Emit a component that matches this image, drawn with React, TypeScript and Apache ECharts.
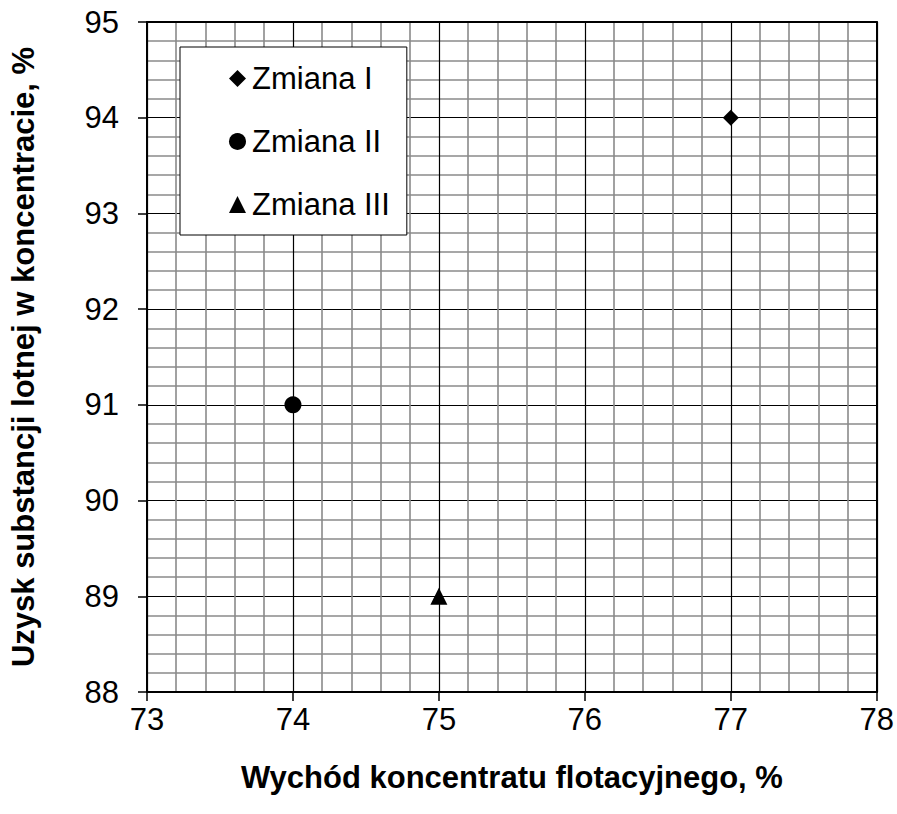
import React, { useEffect, useRef } from "react";
import * as echarts from "echarts";

const seriesNames = ["Zmiana I", "Zmiana II", "Zmiana III"];
const seriesSymbols = ["diamond", "circle", "triangle"];
const xValues = [77, 74, 75];
const yValues = [94, 91, 89];

const xTitle = "Wychód koncentratu flotacyjnego, %";
const yTitle = "Uzysk substancji lotnej w koncentracie, %";

const FONT = "'Liberation Sans', Arial, sans-serif";

export default function App() {
  const ref = useRef<HTMLDivElement>(null);
  useEffect(() => {
    if (!ref.current) return;
    const chart = echarts.init(ref.current, undefined, { renderer: "svg" });
    const axisCommon = {
      axisLine: { show: true, lineStyle: { color: "#000", width: 2 } },
      axisTick: { show: true, inside: false, length: 9, lineStyle: { color: "#000", width: 1.5 } },
      minorTick: { show: false, splitNumber: 5 },
      splitLine: { show: true, lineStyle: { color: "#000", width: 1.2 } },
      minorSplitLine: { show: true, lineStyle: { color: "#8a8a8a", width: 1.6 } },
      axisLabel: { color: "#000", fontSize: 31, fontFamily: FONT },
      nameTextStyle: { color: "#000", fontSize: 31, fontWeight: "bold", fontFamily: FONT },
    };
    const borderAxis = {
      axisLine: { show: true, lineStyle: { color: "#000", width: 2 } },
      axisTick: { show: false },
      axisLabel: { show: false },
      splitLine: { show: false },
    };
    chart.setOption({
      animation: false,
      backgroundColor: "#fff",
      grid: { left: 142, right: 19, top: 22, bottom: 122, containLabel: false },
      xAxis: [
        {
          type: "value",
          min: 73,
          max: 78,
          interval: 1,
          name: xTitle,
          nameLocation: "middle",
          nameGap: 70,
          ...axisCommon,
          axisLabel: { ...axisCommon.axisLabel, margin: 12 },
        },
        { type: "value", position: "top", min: 73, max: 78, interval: 1, ...borderAxis },
      ],
      yAxis: [
        {
          type: "value",
          min: 88,
          max: 95,
          interval: 1,
          name: yTitle,
          nameLocation: "middle",
          nameGap: 108,
          ...axisCommon,
          axisLabel: { ...axisCommon.axisLabel, margin: 28 },
        },
        { type: "value", position: "right", min: 88, max: 95, interval: 1, ...borderAxis },
      ],
      legend: {
        orient: "vertical",
        left: 180,
        top: 47,
        padding: [16, 17, 15, 49],
        itemGap: 32,
        itemWidth: 17,
        itemHeight: 17,
        backgroundColor: "#fff",
        borderColor: "#000",
        borderWidth: 1,
        borderRadius: 0,
        textStyle: { color: "#000", fontSize: 31, fontFamily: FONT, lineHeight: 31, padding: [0, 0, 0, 1] },
        data: seriesNames.map((n, i) => ({ name: n, icon: seriesSymbols[i] })),
      },
      series: seriesNames.map((n, i) => ({
        name: n,
        type: "scatter",
        symbol: seriesSymbols[i],
        symbolSize: i === 0 ? 16 : 17,
        itemStyle: { color: "#000", opacity: 1 },
        data: [[xValues[i], yValues[i]]],
        z: 5,
      })),
    });
    return () => chart.dispose();
  }, []);
  return (
    <div
      ref={ref}
      style={{ position: "fixed", left: 0, top: 0, width: 897, height: 814, background: "#fff" }}
    />
  );
}
